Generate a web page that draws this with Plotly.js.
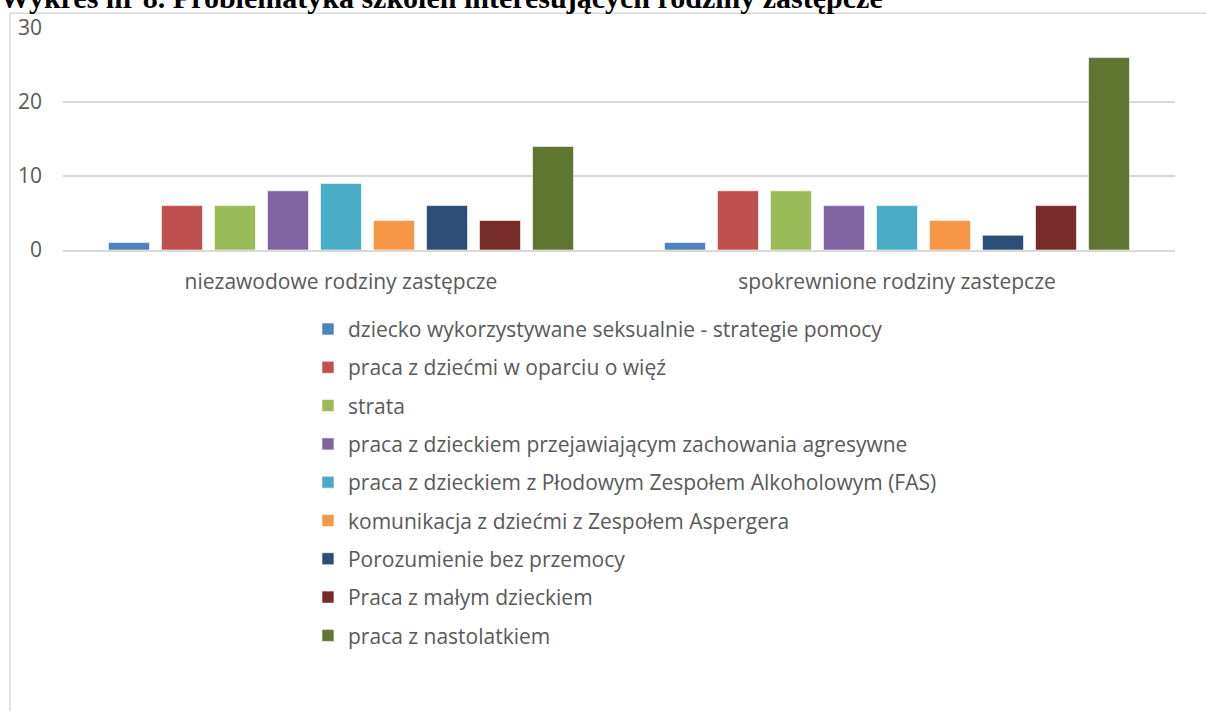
<!DOCTYPE html>
<html>
<head>
<meta charset="utf-8">
<script src="https://cdn.plot.ly/plotly-3.0.1.min.js"></script>
<style>html,body{margin:0;padding:0;background:#fff;}#chart{width:1206px;height:711px;}</style>
</head>
<body>
<div id="chart"></div>
<script>
const titleText = "Wykres nr 8. Problematyka szkoleń interesujących rodziny zastępcze";
const categories = ["niezawodowe rodziny zastępcze", "spokrewnione rodziny zastepcze"];
const seriesNames = [
  "dziecko wykorzystywane seksualnie - strategie pomocy",
  "praca z dziećmi w oparciu o więź",
  "strata",
  "praca z dzieckiem przejawiającym zachowania agresywne",
  "praca z dzieckiem z Płodowym Zespołem Alkoholowym (FAS)",
  "komunikacja z dziećmi z Zespołem Aspergera",
  "Porozumienie bez przemocy",
  "Praca z małym dzieckiem",
  "praca z nastolatkiem"
];
const niezawodowe = [1, 6, 6, 8, 9, 4, 6, 4, 14];
const spokrewnione = [1, 8, 8, 6, 6, 4, 2, 6, 26];
const colors = ["#4F81BD", "#C0504D", "#9BBB59", "#8064A2", "#4BACC6", "#F79646", "#2C4D75", "#772C2A", "#5F7530"];
const yTicks = [0, 10, 20, 30];

const FONT = "Open Sans, Noto Sans, sans-serif";
const traces = seriesNames.map((name, i) => ({
  type: "bar",
  name: name,
  x: categories,
  y: [niezawodowe[i], spokrewnione[i]],
  legendgroup: "g" + i,
  marker: {color: colors[i], line: {color: "rgba(255,255,255,0.6)", width: 1}},
  hoverinfo: "x+y+name"
}));

const layout = {
  width: 1206, height: 711,
  paper_bgcolor: "#ffffff", plot_bgcolor: "#ffffff",
  margin: {l: 63, r: 31, t: 28, b: 461, pad: 0},
  title: {
    text: "<b>" + titleText + "</b>",
    font: {family: "Liberation Serif, Times New Roman, serif", size: 30, color: "#000000"},
    x: 0, xref: "container", xanchor: "left",
    y: 1 - 8/711, yref: "container", yanchor: "bottom"
  },
  barmode: "group",
  bargap: 0.142,
  bargroupgap: 0.226,
  showlegend: true,
  legend: {
    x: 0.2203, xanchor: "left",
    y: -0.265, yanchor: "top",
    orientation: "v",
    traceorder: "grouped",
    tracegroupgap: 8,
    font: {family: FONT, size: 21, color: "#595959"},
    bgcolor: "rgba(0,0,0,0)"
  },
  xaxis: {
    type: "category",
    showgrid: false,
    showline: true, linecolor: "#d9d9d9", linewidth: 1.5,
    ticks: "",
    tickfont: {family: FONT, size: 21, color: "#595959"},
    ticklabelstandoff: 12,
    zeroline: false,
    fixedrange: true
  },
  yaxis: {
    range: [0, 30],
    tickvals: yTicks,
    ticktext: yTicks.map(String),
    showgrid: true, gridcolor: "#d9d9d9", gridwidth: 1.5,
    showline: false, zeroline: false,
    ticks: "",
    tickfont: {family: FONT, size: 21, color: "#595959"},
    ticklabelstandoff: 20,
    fixedrange: true
  },
  shapes: [{
    type: "rect", xref: "paper", yref: "paper",
    x0: (10 - 63) / 1112, x1: (1215 - 63) / 1112,
    y0: (249.3 - 720) / 221.6, y1: 1 + (27.7 - 13) / 221.6,
    line: {color: "#d9d9d9", width: 1.5},
    fillcolor: "rgba(0,0,0,0)", layer: "below"
  }]
};

Plotly.newPlot("chart", traces, layout, {displayModeBar: false, staticPlot: false});
</script>
</body>
</html>
